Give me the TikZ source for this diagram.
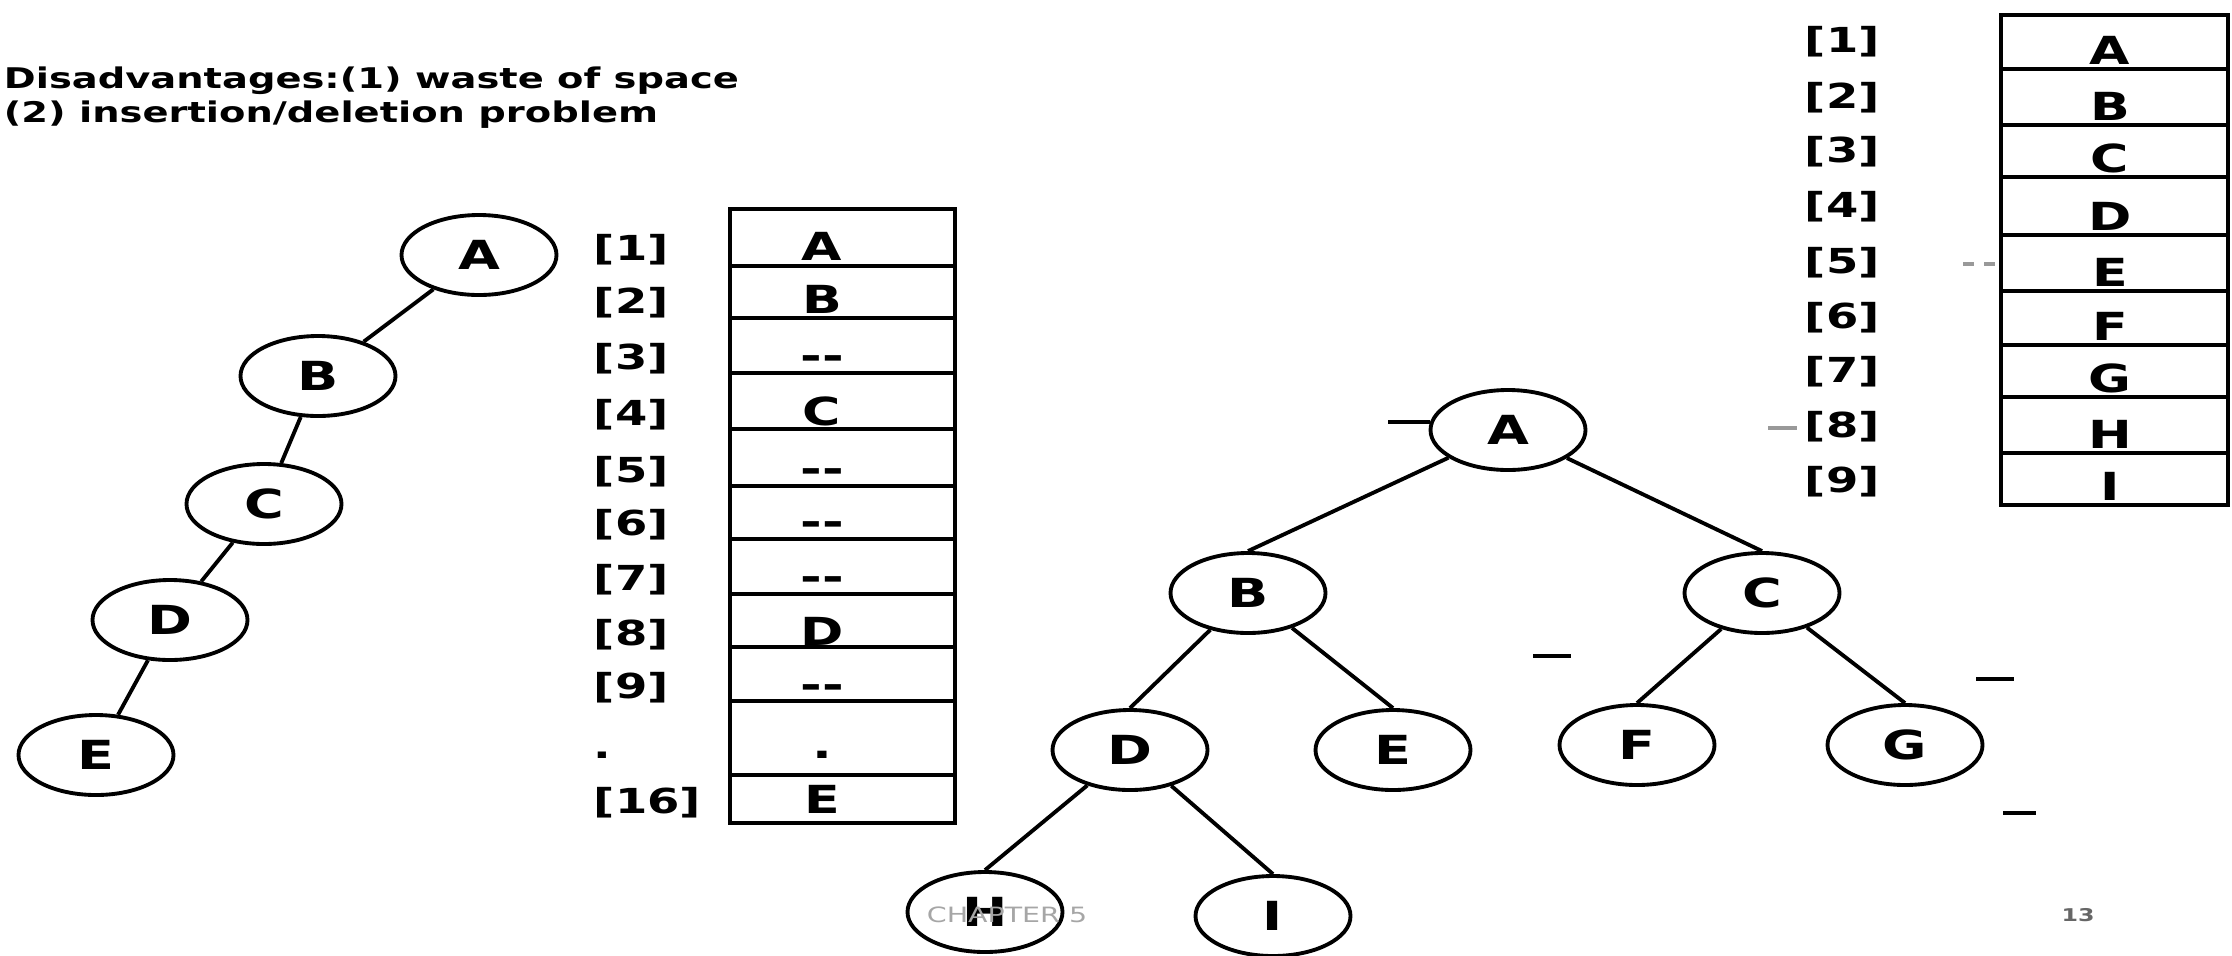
\documentclass[tikz,border=0pt]{standalone}
\usepackage{fontspec}
\newfontfamily\slidefont[FakeStretch=1.35]{DejaVu Sans}
\usetikzlibrary{shapes.geometric}

\begin{document}
\begin{tikzpicture}[line width=1.1pt,
  vert/.style={draw, ellipse, minimum width=1.55cm, minimum height=0.8cm, inner sep=0pt,
    font=\slidefont\bfseries\fontsize{11.4}{13}\selectfont},
  cell/.style={anchor=base, inner sep=0pt, font=\slidefont\bfseries\fontsize{11}{13}\selectfont},
  idx/.style={anchor=base west, inner sep=0pt, font=\slidefont\bfseries\fontsize{9.8}{12}\selectfont},
  speck/.style={line width=1pt}]
\useasboundingbox (0,0) rectangle (22.32,-9.55);

\node[anchor=base west, inner sep=0pt, align=left, font=\slidefont\bfseries\fontsize{8.1}{9.4}\selectfont]
  (title) at (0.02,-1.22) {Disadvantages:(1) waste of space\\(2) insertion/deletion problem};

% skewed tree
\node[vert] (la) at (4.79,-2.55) {A};
\node[vert] (lb) at (3.18,-3.76) {B};
\node[vert] (lc) at (2.64,-5.04) {C};
\node[vert] (ld) at (1.70,-6.20) {D};
\node[vert] (le) at (0.96,-7.55) {E};
\draw (la) -- (lb) -- (lc) -- (ld) -- (le);

% its array
\draw (7.30,-2.09) rectangle (9.55,-8.23);
\foreach \y in {2.66,3.18,3.73,4.29,4.86,5.39,5.94,6.47,7.01,7.75}{
\draw (7.30,-\y)--(9.55,-\y);
}
\foreach \yb/\lab/\val [count=\i] in {2.60/[1]/A,3.13/[2]/B,3.69/[3]/{-}{-},4.25/[4]/C,
  4.82/[5]/{-}{-},5.35/[6]/{-}{-},5.90/[7]/{-}{-},6.45/[8]/D,6.98/[9]/{-}{-},7.58/./.,8.13/[16]/E}{
\node[idx] (mi\i) at (5.92,-\yb) {\lab};
\node[cell] (mv\i) at (8.22,-\yb) {\val};
}

% complete tree
\node[vert] (ta) at (15.08,-4.30) {A};
\node[vert] (tb) at (12.48,-5.93) {B};
\node[vert] (tc) at (17.62,-5.93) {C};
\node[vert] (td) at (11.30,-7.50) {D};
\node[vert] (te) at (13.93,-7.50) {E};
\node[vert] (tf) at (16.37,-7.45) {F};
\node[vert] (tg) at (19.05,-7.45) {G};
\node[vert] (th) at (9.85,-9.12) {H};
\node[vert] (ti) at (12.73,-9.16) {I};
\draw (ta) -- (tb.north);
\draw (ta) -- (tc.north);
\draw (tb) -- (td.north);
\draw (tb) -- (te.north);
\draw (tc) -- (tf.north);
\draw (tc) -- (tg.north);
\draw (td) -- (th.north);
\draw (td) -- (ti.north);

% its array
\draw (20.01,-0.15) rectangle (22.28,-5.05);
\foreach \y in {0.69,1.25,1.77,2.35,2.91,3.45,3.97,4.53}{
\draw (20.01,-\y)--(22.28,-\y);
}
\foreach \yb/\lb/\val [count=\i] in {0.64/0.52/A,1.20/1.08/B,1.72/1.62/C,2.30/2.17/D,2.86/2.73/E,
  3.40/3.28/F,3.92/3.82/G,4.48/4.37/H,5.00/4.92/I}{
\node[idx] (ri\i) at (18.03,-\lb) {[\i]};
\node[cell] (rv\i) at (21.10,-\yb) {\val};
}

% scan marks
\draw[speck] (13.88,-4.22) -- (14.30,-4.22);
\draw[speck] (15.33,-6.56) -- (15.71,-6.56);
\draw[speck] (19.76,-6.79) -- (20.14,-6.79);
\draw[speck] (20.03,-8.13) -- (20.36,-8.13);
\draw[speck, black!40] (17.68,-4.28) -- (17.97,-4.28);
\draw[speck, black!40, dashed] (19.63,-2.64) -- (19.95,-2.64);

\node[text=black!35, font=\slidefont\fontsize{6}{7}\selectfont] (chap) at (10.07,-9.15) {CHAPTER 5};
\node[text=black!60, font=\slidefont\bfseries\fontsize{5}{6}\selectfont] (pg) at (20.78,-9.15) {13};
\end{tikzpicture}
\end{document}
